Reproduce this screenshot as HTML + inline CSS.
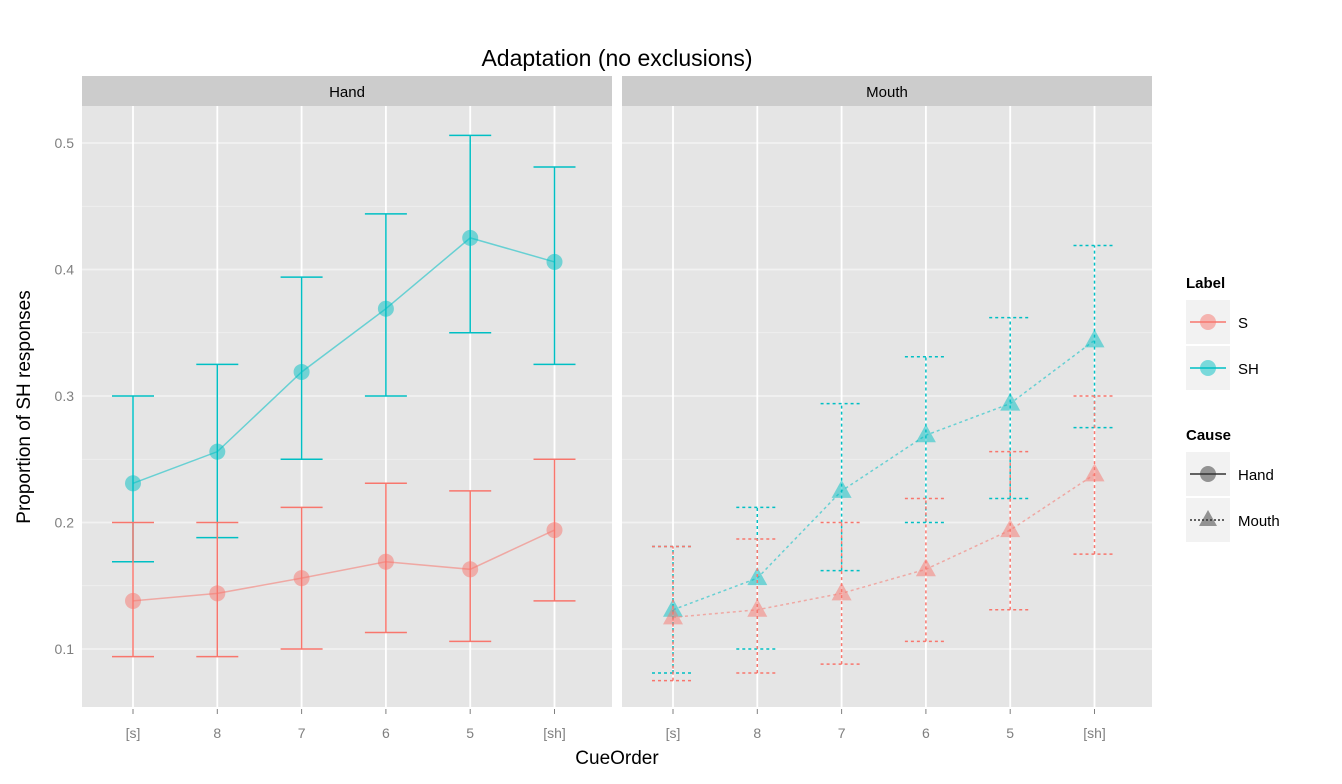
<!DOCTYPE html>
<html><head><meta charset="utf-8"><style>
body{margin:0;background:#fff;}
svg{display:block;font-family:"Liberation Sans",sans-serif;}
</style></head><body>
<svg id="s" width="1342" height="784" xmlns="http://www.w3.org/2000/svg">
<text x="617" y="66" font-size="23" text-anchor="middle" fill="#000">Adaptation (no exclusions)</text>
<rect x="82" y="76" width="530" height="30" fill="#cccccc"/>
<rect x="622" y="76" width="530" height="30" fill="#cccccc"/>
<text x="347" y="97" font-size="15" text-anchor="middle">Hand</text>
<text x="887" y="97" font-size="15" text-anchor="middle">Mouth</text>
<rect x="82" y="106" width="530" height="601" fill="#e5e5e5"/>
<rect x="622" y="106" width="530" height="601" fill="#e5e5e5"/>
<g id="g"></g>
<text transform="translate(30,407) rotate(-90)" font-size="19" text-anchor="middle">Proportion of SH responses</text>
<text x="617" y="764" font-size="19" text-anchor="middle">CueOrder</text>
<text x="1186" y="288" font-size="15" font-weight="bold">Label</text>
<rect x="1186" y="300" width="44" height="44" fill="#f2f2f2"/>
<rect x="1186" y="346" width="44" height="44" fill="#f2f2f2"/>
<line x1="1190" y1="322" x2="1226" y2="322" stroke="#F8766D" stroke-width="1.5"/>
<circle cx="1208" cy="322" r="8" fill="#F8766D" fill-opacity="0.5"/>
<line x1="1190" y1="368" x2="1226" y2="368" stroke="#00BFC4" stroke-width="1.5"/>
<circle cx="1208" cy="368" r="8" fill="#00BFC4" fill-opacity="0.5"/>
<text x="1238" y="328" font-size="15">S</text>
<text x="1238" y="374" font-size="15">SH</text>
<text x="1186" y="440" font-size="15" font-weight="bold">Cause</text>
<rect x="1186" y="452" width="44" height="44" fill="#f2f2f2"/>
<rect x="1186" y="498" width="44" height="44" fill="#f2f2f2"/>
<line x1="1190" y1="474" x2="1226" y2="474" stroke="#333" stroke-width="1.5"/>
<circle cx="1208" cy="474" r="8" fill="#333" fill-opacity="0.5"/>
<line x1="1190" y1="520" x2="1226" y2="520" stroke="#333" stroke-width="1.5" stroke-dasharray="2,2"/>
<polygon points="1208,510 1217,526 1199,526" fill="#333" fill-opacity="0.5"/>
<text x="1238" y="480" font-size="15">Hand</text>
<text x="1238" y="526" font-size="15">Mouth</text>
</svg>
<script>
var g=document.getElementById('g'),h="";
function Y(v){return 649-(v-0.1)*1265;}
var SP=84.3;
var labs=["[s]","8","7","6","5","[sh]"];
[82,622].forEach(function(px){
 for(var v=0.05;v<0.56;v+=0.05){var y=Y(v);if(y<106||y>707)continue;
  var major=Math.abs(Math.round(v*10)-v*10)<0.01;
  h+='<line x1="'+px+'" x2="'+(px+530)+'" y1="'+y+'" y2="'+y+'" stroke="#f2f2f2" stroke-width="'+(major?1.8:0.8)+'"/>';}
 for(var i=0;i<6;i++){var x=px+51+i*SP;
  h+='<line x1="'+x+'" x2="'+x+'" y1="106" y2="707" stroke="#fff" stroke-width="1.8"/>';
  h+='<line x1="'+x+'" x2="'+x+'" y1="709" y2="714" stroke="#7f7f7f" stroke-width="1"/>';
  h+='<text x="'+x+'" y="738" font-size="14" fill="#7f7f7f" text-anchor="middle">'+labs[i]+'</text>';}
});
[0.1,0.2,0.3,0.4,0.5].forEach(function(v){h+='<text x="74" y="'+(Y(v)+5)+'" font-size="14" fill="#7f7f7f" text-anchor="end">'+v.toFixed(1)+'</text>';});
var S="#F8766D",C="#00BFC4";
var series=[
 [82,C,0,[.231,.256,.319,.369,.425,.406],[[.169,.300],[.188,.325],[.250,.394],[.300,.444],[.350,.506],[.325,.481]]],
 [82,S,0,[.138,.144,.156,.169,.163,.194],[[.094,.200],[.094,.200],[.100,.212],[.113,.231],[.106,.225],[.138,.250]]],
 [622,C,1,[.131,.156,.225,.269,.294,.344],[[.081,.181],[.100,.212],[.162,.294],[.200,.331],[.219,.362],[.275,.419]]],
 [622,S,1,[.125,.131,.144,.163,.194,.238],[[.075,.181],[.081,.187],[.088,.200],[.106,.219],[.131,.256],[.175,.300]]]];
series.forEach(function(s){
 var px=s[0],col=s[1],d=s[2]?' stroke-dasharray="3,3"':'';
 var pts=[];
 for(var i=0;i<6;i++){var x=px+51+i*SP;pts.push(x+','+Y(s[3][i]));
  var lo=Y(s[4][i][0]),hi=Y(s[4][i][1]);
  h+='<line x1="'+x+'" x2="'+x+'" y1="'+lo+'" y2="'+hi+'" stroke="'+col+'" stroke-width="1.5"'+d+'/>';
  h+='<line x1="'+(x-21)+'" x2="'+(x+21)+'" y1="'+lo+'" y2="'+lo+'" stroke="'+col+'" stroke-width="1.5"'+d+'/>';
  h+='<line x1="'+(x-21)+'" x2="'+(x+21)+'" y1="'+hi+'" y2="'+hi+'" stroke="'+col+'" stroke-width="1.5"'+d+'/>';}
 h+='<polyline points="'+pts.join(' ')+'" fill="none" stroke="'+col+'" stroke-opacity="0.55" stroke-width="1.5"'+d+'/>';
 for(var i=0;i<6;i++){var x=px+51+i*SP,y=Y(s[3][i]);
  if(s[2]) h+='<polygon points="'+x+','+(y-11)+' '+(x+10)+','+(y+7)+' '+(x-10)+','+(y+7)+'" fill="'+col+'" fill-opacity="0.5"/>';
  else h+='<circle cx="'+x+'" cy="'+y+'" r="8" fill="'+col+'" fill-opacity="0.5"/>';}
});
g.innerHTML=h;
</script>
</body></html>
